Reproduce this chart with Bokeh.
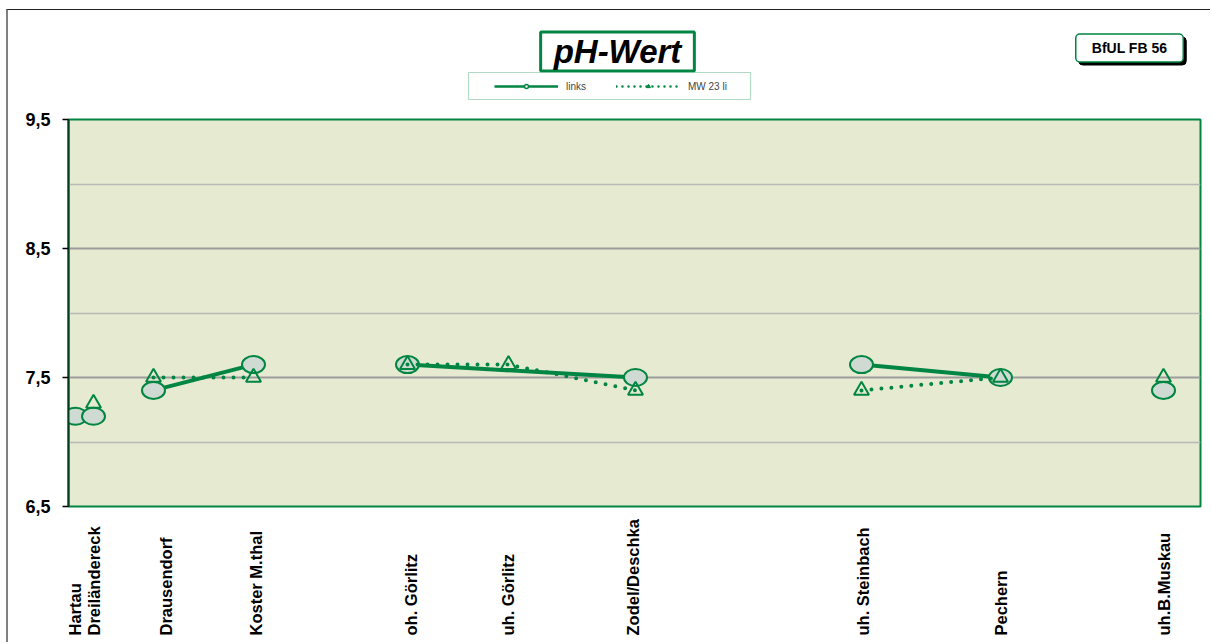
import math
from bokeh.plotting import figure
from bokeh.layouts import column
from bokeh.models import (Range1d, FixedTicker, Grid, Label, Legend, LegendItem,
                          BoxAnnotation)
from bokeh.core.properties import value
from bokeh.embed import file_html
from bokeh.resources import INLINE

nan = float("nan")

# ---------------- data ----------------
stations = ["Hartau", "Dreiländereck", "Drausendorf", "Koster M.thal", "oh. Görlitz",
            "uh. Görlitz", "Zodel/Deschka", "uh. Steinbach", "Pechern", "uh.B.Muskau"]
station_pos = [0.7, 2.5, 8.5, 18.5, 33.9, 44.0, 56.7, 79.3, 93.2, 109.5]
section = [1, 1, 2, 2, 3, 3, 3, 4, 4, 5]
links = [7.2, 7.2, 7.4, 7.6, 7.6, nan, 7.5, 7.6, 7.5, 7.4]
mw23_li = [nan, 7.3, 7.5, 7.5, 7.6, 7.6, 7.4, 7.4, 7.5, 7.5]
label_pos = [0.6, 2.5, 9.7, 18.7, 34.2, 43.9, 56.4, 79.4, 93.2, 109.5]
y_ticks = [6.5, 7.5, 8.5, 9.5]
y_tick_labels = ["6,5", "7,5", "8,5", "9,5"]
y_minor_grid = [7.0, 8.0, 9.0]
y_major_grid = [7.5, 8.5]
x_extent = [0.0, 113.2]
y_extent = [6.5, 9.5]

GREEN = "#008542"
DARK = "#003d1a"
BG = "#e5ead1"
CIRCLE_FILL = "#cfdbd2"
FONT = "Liberation Sans"
W = 1202
n = len(stations)

# ---------------- header figure (title, legend, badge) ----------------
# frames of the column children are aligned (page x 68..1200), so header data units = page px
HEAD_H = 97
top = figure(width=W, height=HEAD_H, x_range=Range1d(68, 1200), y_range=Range1d(0, HEAD_H),
             output_backend="svg", toolbar_location=None,
             x_axis_location=None, y_axis_location=None,
             min_border_left=60, min_border_right=10,
             min_border_top=0, min_border_bottom=0)
top.xgrid.visible = False
top.ygrid.visible = False
top.outline_line_color = None
top.background_fill_color = "white"
top.border_fill_color = "white"

top.add_layout(Label(x=617, y=56, text="pH-Wert",
                     text_font=FONT, text_font_style="bold italic",
                     text_font_size="33px", text_color="black",
                     text_align="center", text_baseline="middle",
                     background_fill_color="white", border_line_color=GREEN,
                     border_line_width=3, padding=dict(left=13, right=13, top=1, bottom=1)))

badge_kw = dict(text="BfUL FB 56", text_font=FONT, text_font_style="bold",
                text_font_size="14px", text_align="center", text_baseline="middle",
                border_radius=4, padding=dict(left=16, right=16, top=6, bottom=6))
top.add_layout(Label(x=1132, y=56.5, text_color="black", background_fill_color="black",
                     border_line_color="black", **badge_kw))
top.add_layout(Label(x=1129, y=59.5, text_color="black", background_fill_color="white",
                     border_line_color=GREEN, border_line_width=1.5, **badge_kw))

top.add_layout(BoxAnnotation(left=468, right=750, bottom=8, top=35,
                             fill_color="white", fill_alpha=1,
                             line_color=GREEN, line_width=1.2))
lg_solid = top.line([nan], [nan], line_color=GREEN, line_width=2.5)
lg_circ = top.scatter([nan], [nan], marker="circle", fill_color="white",
                      line_color=GREEN, line_width=1.5)
lg_dot = top.line([nan], [nan], line_color=GREEN, line_width=2.5, line_dash="0 6",
                  line_cap="round")
lg_tri = top.scatter([nan], [nan], marker="triangle", fill_color=GREEN,
                     line_color=GREEN, line_width=1)
legend = Legend(items=[LegendItem(label="links", renderers=[lg_solid, lg_circ]),
                       LegendItem(label="MW 23 li", renderers=[lg_dot, lg_tri])],
                orientation="horizontal", location=(426, 15), padding=0, margin=0,
                glyph_width=64, glyph_height=10, label_standoff=8, spacing=30,
                label_text_font=FONT, label_text_font_size="10px",
                label_height=12, label_width=20,
                border_line_alpha=0, background_fill_alpha=0)
top.add_layout(legend)

# ---------------- main chart ----------------
p = figure(width=W, height=410, x_range=Range1d(*x_extent), y_range=Range1d(*y_extent),
           output_backend="svg", toolbar_location=None,
           min_border_left=60, min_border_right=10, min_border_top=12, min_border_bottom=11)
p.background_fill_color = BG
p.border_fill_color = "white"
p.outline_line_color = GREEN
p.outline_line_width = 2

p.xaxis.visible = False
p.yaxis.ticker = FixedTicker(ticks=y_ticks, minor_ticks=[])
p.yaxis.major_label_overrides = {t: l for t, l in zip(y_ticks, y_tick_labels)}
p.yaxis.major_label_text_font = FONT
p.yaxis.major_label_text_font_style = "bold"
p.yaxis.major_label_text_font_size = "18px"
p.yaxis.major_label_text_color = "black"
p.yaxis.major_label_standoff = 12
p.yaxis.axis_line_color = DARK
p.yaxis.axis_line_width = 2
p.yaxis.major_tick_line_color = "black"
p.yaxis.major_tick_line_width = 1.5
p.yaxis.major_tick_out = 6
p.yaxis.major_tick_in = 0
p.yaxis.minor_tick_line_color = None

p.xgrid.visible = False
p.ygrid.ticker = FixedTicker(ticks=y_major_grid)
p.ygrid.grid_line_color = "#9c9c9c"
p.ygrid.grid_line_width = 2
p.add_layout(Grid(dimension=1, ticker=FixedTicker(ticks=y_minor_grid),
                  grid_line_color="#b8b8b8", grid_line_width=1.5))


def section_lines(vals):
    xs, ys = [], []
    for s in sorted(set(section)):
        idx = [i for i in range(n) if section[i] == s and not math.isnan(vals[i])]
        if len(idx) > 1:
            xs.append([station_pos[i] for i in idx])
            ys.append([vals[i] for i in idx])
    return xs, ys


lx, ly = section_lines(links)
p.multi_line(lx, ly, line_color=GREEN, line_width=4)

cx = [station_pos[i] for i in range(n) if not math.isnan(links[i])]
cy = [links[i] for i in range(n) if not math.isnan(links[i])]
p.ellipse(cx, cy, width=23, height=17, width_units="screen", height_units="screen",
          fill_color=CIRCLE_FILL, line_color=GREEN, line_width=2)

mx, my = section_lines(mw23_li)
p.multi_line(mx, my, line_color=GREEN, line_width=4, line_dash="0 10", line_cap="round")

tx = [station_pos[i] for i in range(n) if not math.isnan(mw23_li[i])]
ty = [mw23_li[i] for i in range(n) if not math.isnan(mw23_li[i])]
p.scatter(tx, ty, marker="triangle", size=15, fill_alpha=0, line_color=GREEN, line_width=2)

# ---------------- station labels ----------------
LAB_H = 125
bot = figure(width=W, height=LAB_H, x_range=p.x_range, y_range=Range1d(0, LAB_H),
             output_backend="svg", toolbar_location=None,
             x_axis_location=None, y_axis_location=None,
             min_border_left=60, min_border_right=10,
             min_border_top=0, min_border_bottom=0)
bot.xgrid.visible = False
bot.ygrid.visible = False
bot.outline_line_color = None
bot.background_fill_color = "white"
bot.border_fill_color = "white"
bot.text(x=label_pos, y=[7] * n, text=stations, angle=math.pi / 2,
         text_align="left", text_baseline="middle",
         text_font=value(FONT), text_font_style="bold",
         text_font_size="16.5px", text_color="black")

layout = column(top, p, bot, spacing=0)
layout.styles = {"margin-left": "6px", "margin-top": "9px",
                 "border-left": "2px solid #808080", "border-top": "1px solid #222222"}

open("out.html", "w").write(file_html(layout, INLINE))
